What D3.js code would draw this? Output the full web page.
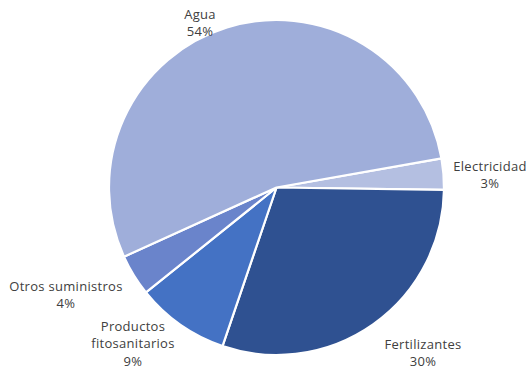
<!DOCTYPE html>
<html><head><meta charset="utf-8">
<script src="https://cdn.jsdelivr.net/npm/d3@7"></script>
<style>body{margin:0;background:#fff}svg{display:block}text{font-family:"Open Sans",sans-serif;font-size:13px;letter-spacing:0.3px;fill:#404040}</style>
</head><body>
<svg id="c" width="529" height="369"></svg>
<script>
const categories = ["Electricidad", "Fertilizantes", "Productos fitosanitarios", "Otros suministros", "Agua"];
const values = [3, 30, 9, 4, 54];
const percentLabels = ["3%", "30%", "9%", "4%", "54%"];
const colors = ["#B4BFE1", "#2F5191", "#4472C4", "#6A84CB", "#9FAEDA"];

const svg = d3.select("#c");
const cx = 276.5, cy = 187.5, r = 167.5;
const startDeg = 80;
const pie = d3.pie().sort(null).value(d => d)
  .startAngle(startDeg * Math.PI / 180)
  .endAngle((startDeg + 360) * Math.PI / 180);
const arc = d3.arc().innerRadius(0).outerRadius(r);
const arcs = pie(values);
const g = svg.append("g").attr("transform", `translate(${cx},${cy})`);
g.selectAll("path").data(arcs).join("path")
  .attr("d", arc)
  .attr("fill", (d, i) => colors[i])
  .attr("stroke", "#fff").attr("stroke-width", 2.2).attr("stroke-linejoin", "round");

// label layout (text block center positions)
const labelPos = [[490, 166], [423, 344], [133, 326], [66, 286], [200, 14]];
const labelLines = [["Electricidad"], ["Fertilizantes"], ["Productos", "fitosanitarios"], ["Otros suministros"], ["Agua"]];
const lh = 17.5;
categories.forEach((c, i) => {
  const lines = labelLines[i].concat([percentLabels[i]]);
  const t = svg.append("text").attr("text-anchor", "middle");
  lines.forEach((ln, j) => {
    t.append("tspan").attr("x", labelPos[i][0]).attr("y", labelPos[i][1] + j * lh)
      .attr("dy", "0.35em").text(ln);
  });
});
</script>
</body></html>
